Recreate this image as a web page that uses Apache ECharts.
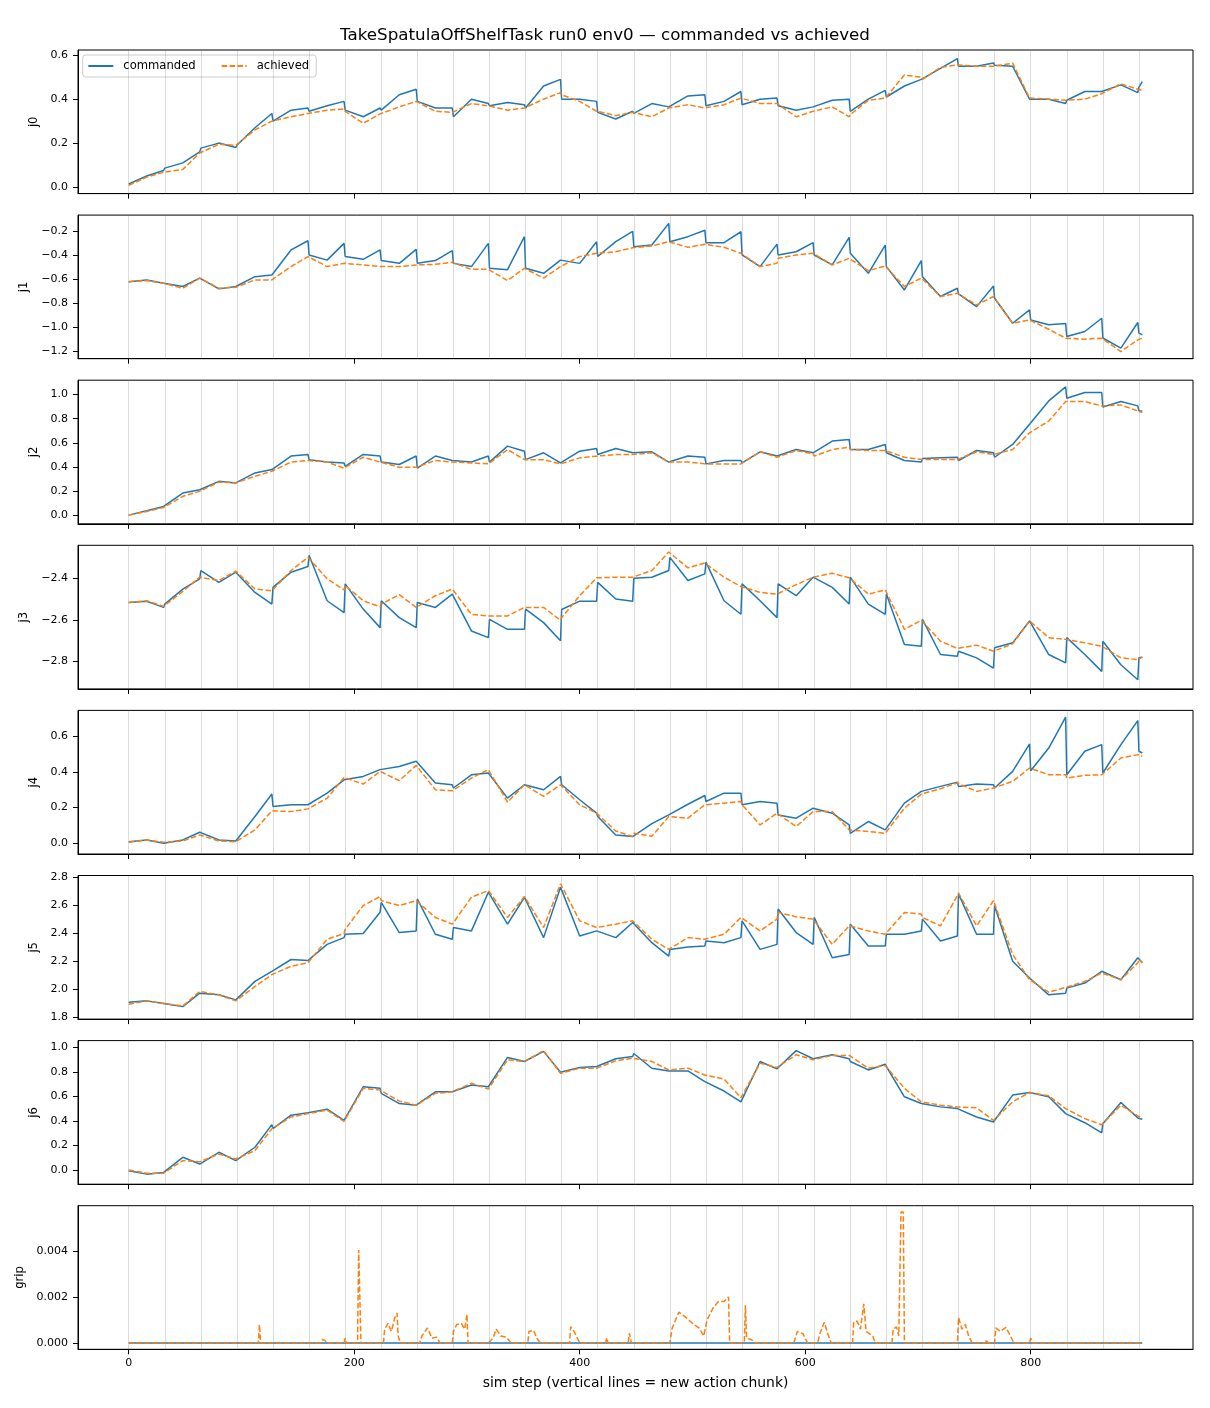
<!DOCTYPE html>
<html>
<head>
<meta charset="utf-8">
<title>TakeSpatulaOffShelfTask run0 env0 — commanded vs achieved</title>
<script src="https://cdn.jsdelivr.net/npm/echarts@6.0.0/dist/echarts.min.js"></script>
<style>
  html, body { margin: 0; padding: 0; background: #fff; }
  #chart { width: 1210px; height: 1408px; }
</style>
</head>
<body>
<div id="chart"></div>
<script>
// sampled sim steps: start, middle and end of every 32-step action chunk
const steps = [0,16,31, 32,48,63, 64,80,95, 96,112,127, 128,144,159, 160,176,191, 192,208,223,
  224,240,255, 256,272,287, 288,304,319, 320,336,351, 352,368,383, 384,400,415, 416,432,447,
  448,464,479, 480,496,511, 512,528,543, 544,560,575, 576,592,607, 608,624,639, 640,656,671,
  672,688,703, 704,720,735, 736,752,767, 768,784,799, 800,816,831, 832,848,863, 864,880,895, 896,899];

const chunkStarts = [0,32,64,96,128,160,192,224,256,288,320,352,384,416,448,480,512,544,576,608,640,672,704,736,768,800,832,864,896];
const xTicks = [0, 200, 400, 600, 800];

const j0Cmd = [0.014,0.050,0.075, 0.086,0.110,0.160, 0.177,0.200,0.180, 0.190,0.270,0.335,
  0.300,0.350,0.360, 0.345,0.370,0.390, 0.350,0.320,0.360, 0.350,0.420,0.445,
  0.390,0.360,0.360, 0.320,0.400,0.380, 0.370,0.385,0.375, 0.360,0.460,0.490,
  0.400,0.400,0.390, 0.340,0.310,0.345, 0.335,0.380,0.365, 0.365,0.415,0.420,
  0.370,0.390,0.435, 0.375,0.400,0.405, 0.370,0.350,0.365, 0.365,0.395,0.400,
  0.345,0.400,0.440, 0.410,0.460,0.490, 0.490,0.540,0.585, 0.550,0.550,0.565,
  0.555,0.550,0.400, 0.405,0.400,0.380, 0.395,0.435,0.435, 0.435,0.465,0.430, 0.455,0.480];
const j0Ach = [0.008,0.045,0.067, 0.070,0.080,0.155, 0.160,0.195,0.190, 0.190,0.260,0.300,
  0.300,0.320,0.335, 0.335,0.350,0.355, 0.345,0.290,0.333, 0.336,0.365,0.390,
  0.386,0.345,0.340, 0.336,0.380,0.370, 0.367,0.350,0.360, 0.360,0.400,0.430,
  0.420,0.390,0.345, 0.340,0.325,0.340, 0.333,0.320,0.360, 0.360,0.375,0.360,
  0.360,0.375,0.405, 0.400,0.380,0.380, 0.375,0.320,0.345, 0.345,0.365,0.320,
  0.330,0.395,0.405, 0.410,0.510,0.500, 0.490,0.545,0.556, 0.556,0.550,0.550,
  0.556,0.564,0.405, 0.400,0.400,0.395, 0.395,0.400,0.425, 0.427,0.470,0.445, 0.440,0.440];

const j1Cmd = [-0.620,-0.605,-0.633, -0.633,-0.660,-0.590, -0.585,-0.680,-0.660, -0.655,-0.578,-0.564,
  -0.560,-0.355,-0.278, -0.397,-0.440,-0.300, -0.410,-0.433,-0.355, -0.444,-0.467,-0.350,
  -0.467,-0.444,-0.360, -0.467,-0.494,-0.300, -0.508,-0.520,-0.244, -0.508,-0.550,-0.440,
  -0.433,-0.467,-0.286, -0.410,-0.286,-0.200, -0.328,-0.314,-0.133, -0.286,-0.244,-0.190,
  -0.294,-0.294,-0.203, -0.397,-0.494,-0.306, -0.397,-0.370,-0.294, -0.397,-0.480,-0.250,
  -0.383,-0.550,-0.314, -0.494,-0.689,-0.444, -0.578,-0.744,-0.675, -0.722,-0.828,-0.656,
  -0.758,-0.967,-0.855, -0.940,-0.980,-0.970, -1.078,-1.036,-0.925, -1.090,-1.175,-0.961, -1.050,-1.064];
const j1Ach = [-0.620,-0.610,-0.633, -0.633,-0.675,-0.590, -0.585,-0.675,-0.667, -0.660,-0.605,-0.605,
  -0.590,-0.494,-0.410, -0.410,-0.494,-0.467, -0.467,-0.480,-0.494, -0.494,-0.494,-0.480,
  -0.480,-0.475,-0.458, -0.467,-0.517,-0.517, -0.520,-0.610,-0.508, -0.517,-0.590,-0.494,
  -0.480,-0.410,-0.383, -0.397,-0.370,-0.336, -0.342,-0.322,-0.286, -0.286,-0.333,-0.308,
  -0.306,-0.333,-0.383, -0.397,-0.494,-0.467, -0.425,-0.397,-0.383, -0.378,-0.480,-0.425,
  -0.410,-0.528,-0.489, -0.494,-0.661,-0.590, -0.590,-0.744,-0.717, -0.731,-0.814,-0.744,
  -0.750,-0.967,-0.940, -0.940,-1.017,-1.092, -1.100,-1.100,-1.092, -1.100,-1.203,-1.106, -1.100,-1.092];

const j2Cmd = [0.000,0.036,0.072, 0.058,0.183,0.210, 0.197,0.280,0.267, 0.267,0.350,0.378,
  0.364,0.490,0.503, 0.460,0.440,0.433, 0.405,0.503,0.490, 0.440,0.420,0.490,
  0.390,0.490,0.453, 0.440,0.440,0.490, 0.440,0.572,0.530, 0.460,0.517,0.433,
  0.425,0.530,0.553, 0.503,0.553,0.517, 0.503,0.525,0.440, 0.433,0.490,0.480,
  0.425,0.453,0.453, 0.433,0.525,0.490, 0.480,0.544,0.517, 0.503,0.614,0.628,
  0.544,0.544,0.586, 0.517,0.453,0.440, 0.470,0.475,0.480, 0.453,0.536,0.517,
  0.480,0.586,0.753, 0.753,0.947,1.064, 0.970,1.017,1.017, 0.897,0.942,0.906, 0.864,0.864];
const j2Ach = [0.000,0.030,0.064, 0.064,0.156,0.197, 0.203,0.275,0.267, 0.267,0.322,0.364,
  0.370,0.440,0.453, 0.453,0.440,0.390, 0.397,0.480,0.440, 0.440,0.397,0.397,
  0.390,0.453,0.440, 0.440,0.433,0.425, 0.440,0.544,0.460, 0.453,0.460,0.425,
  0.425,0.475,0.489, 0.489,0.503,0.503, 0.503,0.517,0.440, 0.433,0.440,0.425,
  0.425,0.425,0.425, 0.433,0.525,0.480, 0.489,0.536,0.508, 0.489,0.544,0.564,
  0.544,0.536,0.536, 0.525,0.480,0.461, 0.461,0.461,0.461, 0.461,0.525,0.503,
  0.489,0.544,0.683, 0.692,0.780,0.942, 0.947,0.942,0.906, 0.906,0.914,0.864, 0.850,0.850];

const j3Cmd = [-2.516,-2.511,-2.540, -2.524,-2.452,-2.403, -2.363,-2.420,-2.371, -2.371,-2.468,-2.524,
  -2.444,-2.371,-2.344, -2.290,-2.508,-2.565, -2.427,-2.548,-2.637, -2.508,-2.589,-2.637,
  -2.516,-2.540,-2.476, -2.476,-2.653,-2.685, -2.597,-2.645,-2.645, -2.548,-2.613,-2.700,
  -2.550,-2.510,-2.510, -2.420,-2.500,-2.510, -2.400,-2.395,-2.363, -2.300,-2.411,-2.379,
  -2.323,-2.508,-2.573, -2.427,-2.508,-2.589, -2.427,-2.484,-2.395, -2.387,-2.444,-2.524,
  -2.395,-2.524,-2.573, -2.476,-2.718,-2.726, -2.597,-2.766,-2.774, -2.750,-2.782,-2.831,
  -2.734,-2.710,-2.605, -2.597,-2.766,-2.806, -2.685,-2.766,-2.847, -2.702,-2.815,-2.887, -2.782,-2.779];
const j3Ach = [-2.516,-2.508,-2.535, -2.532,-2.463,-2.395, -2.387,-2.411,-2.366, -2.366,-2.452,-2.460,
  -2.452,-2.363,-2.300, -2.298,-2.403,-2.456, -2.435,-2.508,-2.537, -2.524,-2.479,-2.540,
  -2.532,-2.484,-2.452, -2.460,-2.573,-2.581, -2.581,-2.581,-2.540, -2.537,-2.540,-2.602,
  -2.589,-2.484,-2.398, -2.395,-2.395,-2.395, -2.403,-2.363,-2.274, -2.274,-2.350,-2.327,
  -2.327,-2.395,-2.440, -2.431,-2.468,-2.476, -2.468,-2.431,-2.395, -2.392,-2.376,-2.398,
  -2.403,-2.476,-2.456, -2.460,-2.645,-2.602, -2.597,-2.702,-2.737, -2.734,-2.721,-2.750,
  -2.747,-2.715,-2.605, -2.602,-2.685,-2.693, -2.698,-2.710,-2.726, -2.726,-2.782,-2.790, -2.782,-2.779];

const j4Cmd = [0.009,0.019,0.000, 0.004,0.019,0.062, 0.060,0.019,0.013, 0.009,0.150,0.276,
  0.206,0.216,0.216, 0.206,0.281,0.356, 0.347,0.375,0.413, 0.422,0.431,0.460,
  0.450,0.338,0.328, 0.310,0.384,0.394, 0.394,0.253,0.328, 0.328,0.300,0.375,
  0.328,0.244,0.169, 0.150,0.047,0.038, 0.043,0.110,0.159, 0.159,0.219,0.268,
  0.234,0.281,0.281, 0.216,0.234,0.225, 0.159,0.141,0.197, 0.197,0.169,0.103,
  0.056,0.122,0.075, 0.075,0.225,0.291, 0.291,0.319,0.343, 0.319,0.332,0.328,
  0.310,0.403,0.557, 0.407,0.534,0.707, 0.384,0.516,0.553, 0.394,0.553,0.688, 0.516,0.506];
const j4Ach = [0.006,0.019,0.006, 0.006,0.013,0.047, 0.056,0.013,0.009, 0.009,0.075,0.182,
  0.188,0.178,0.193, 0.197,0.253,0.369, 0.369,0.332,0.403, 0.403,0.351,0.437,
  0.437,0.300,0.294, 0.287,0.366,0.413, 0.413,0.231,0.328, 0.319,0.263,0.328,
  0.328,0.216,0.169, 0.169,0.069,0.038, 0.056,0.040,0.150, 0.150,0.141,0.216,
  0.225,0.225,0.234, 0.216,0.103,0.169, 0.174,0.094,0.178, 0.178,0.178,0.075,
  0.066,0.066,0.056, 0.056,0.197,0.276, 0.276,0.306,0.338, 0.328,0.291,0.310,
  0.306,0.347,0.422, 0.418,0.384,0.384, 0.366,0.381,0.384, 0.384,0.478,0.497, 0.488,0.488];

const j5Cmd = [1.908,1.918,1.900, 1.913,1.877,1.973, 1.985,1.961,1.925, 1.925,2.057,2.129,
  2.129,2.213,2.206, 2.200,2.321,2.369, 2.393,2.398,2.550, 2.620,2.405,2.417,
  2.645,2.393,2.357, 2.441,2.417,2.693, 2.693,2.465,2.657, 2.645,2.369,2.729,
  2.729,2.381,2.417, 2.405,2.369,2.477, 2.489,2.333,2.237, 2.285,2.302,2.309,
  2.345,2.333,2.369, 2.489,2.285,2.321, 2.573,2.405,2.321, 2.513,2.225,2.249,
  2.465,2.309,2.309, 2.393,2.393,2.417, 2.501,2.345,2.381, 2.681,2.393,2.393,
  2.597,2.201,2.081, 2.069,1.961,1.973, 2.009,2.045,2.129, 2.141,2.069,2.225, 2.213,2.189];
const j5Ach = [1.894,1.918,1.900, 1.906,1.882,1.985, 1.990,1.961,1.918, 1.925,2.021,2.105,
  2.110,2.165,2.189, 2.200,2.357,2.398, 2.429,2.597,2.662, 2.633,2.597,2.633,
  2.621,2.513,2.465, 2.465,2.657,2.705, 2.700,2.513,2.662, 2.652,2.441,2.753,
  2.741,2.489,2.441, 2.436,2.465,2.489, 2.501,2.357,2.285, 2.285,2.369,2.357,
  2.369,2.393,2.513, 2.501,2.417,2.501, 2.549,2.517,2.501, 2.489,2.321,2.453,
  2.453,2.417,2.393, 2.393,2.549,2.537, 2.513,2.453,2.669, 2.686,2.453,2.633,
  2.633,2.249,2.069, 2.057,1.980,2.014, 2.009,2.057,2.117, 2.117,2.069,2.189, 2.213,2.189];

const j6Cmd = [-0.005,-0.033,-0.019, -0.019,0.104,0.049, 0.063,0.145,0.077, 0.090,0.186,0.370,
  0.337,0.447,0.468, 0.474,0.496,0.405, 0.419,0.679,0.666, 0.625,0.542,0.529,
  0.523,0.638,0.638, 0.633,0.693,0.679, 0.671,0.918,0.885, 0.885,0.967,0.797,
  0.789,0.836,0.844, 0.852,0.907,0.926, 0.950,0.830,0.808, 0.803,0.808,0.721,
  0.707,0.644,0.556, 0.570,0.885,0.825, 0.830,0.973,0.907, 0.899,0.940,0.907,
  0.885,0.816,0.863, 0.844,0.597,0.542, 0.542,0.515,0.501, 0.501,0.433,0.392,
  0.397,0.611,0.633, 0.633,0.597,0.460, 0.474,0.386,0.304, 0.378,0.551,0.425, 0.419,0.414];
const j6Ach = [0.000,-0.025,-0.025, -0.025,0.077,0.068, 0.068,0.131,0.090, 0.085,0.159,0.337,
  0.342,0.433,0.460, 0.460,0.488,0.397, 0.397,0.666,0.652, 0.638,0.562,0.529,
  0.529,0.625,0.638, 0.638,0.707,0.660, 0.660,0.899,0.885, 0.885,0.973,0.789,
  0.781,0.830,0.830, 0.836,0.890,0.912, 0.912,0.885,0.816, 0.816,0.830,0.775,
  0.770,0.742,0.589, 0.597,0.871,0.836, 0.844,0.940,0.899, 0.899,0.934,0.934,
  0.918,0.830,0.852, 0.844,0.666,0.556, 0.551,0.529,0.515, 0.523,0.507,0.405,
  0.405,0.556,0.633, 0.633,0.605,0.501, 0.496,0.419,0.370, 0.370,0.529,0.441, 0.433,0.425];

// gripper: commanded stays at 0, achieved has small blips
const gripCmdSteps = [0, 899];
const gripCmd = [0, 0];
const gripAchSteps = [0,115,116,117, 170,172,174,176, 191,192,193, 203,204,206,
  226,227,230,233,236,238,239,241, 258,260,265,269,273,276, 287,288,291,295,298,300,301,
  319,323,326,330,335,339, 354,355,359,362,365, 391,392,395,398,400, 423,424,425, 443,444,446,
  480,482,488,495,501,506,510,513,518,523,528,532,533, 546,547,548,552,556,
  590,593,598,602, 611,613,617,620,623, 642,643,646,649,652,654,660,662,
  677,678,681,683,685,687,688, 735,736,739,742,745,748, 760,761,762,
  768,769,773,778,782,785, 799,800,802, 899];
const gripAch = [0,0,0.0008,0, 0,0.00015,0.0001,0, 0,0.0002,0, 0,0.00405,0,
  0,0.0006,0.00085,0.0005,0.0011,0.0013,0.0003,0, 0,0.0003,0.00065,0.0002,0.00025,0, 0,0.0005,0.0008,0.00085,0.0006,0.00125,0,
  0,0.0002,0.0006,0.0003,0.00025,0, 0,0.0005,0.00055,0.0002,0, 0,0.0007,0.0005,0.0002,0, 0,0.00022,0, 0,0.00042,0,
  0,0.00064,0.00134,0.00108,0.00081,0.00064,0.0003,0.001,0.0015,0.0018,0.0018,0.002,0, 0,0.00165,0.0002,0.00015,0,
  0,0.0005,0.0004,0, 0,0.0004,0.0009,0.0004,0, 0,0.0009,0.00095,0.0006,0.0017,0.0005,0.0003,0,
  0,0.0006,0.0007,0.0003,0.0057,0.0057,0, 0,0.0011,0.0006,0.0008,0.0003,0, 0,0.00015,0,
  0,0.00065,0.0005,0.00068,0.0003,0, 0,0.0002,0, 0];

const j0Ticks = [0, 0.2, 0.4, 0.6];
const j1Ticks = [-1.2, -1.0, -0.8, -0.6, -0.4, -0.2];
const j2Ticks = [0, 0.2, 0.4, 0.6, 0.8, 1.0];
const j3Ticks = [-2.8, -2.6, -2.4];
const j4Ticks = [0, 0.2, 0.4, 0.6];
const j5Ticks = [1.8, 2.0, 2.2, 2.4, 2.6, 2.8];
const j6Ticks = [0, 0.2, 0.4, 0.6, 0.8, 1.0];
const gripTicks = [0, 0.002, 0.004];

const BLUE = '#1f77b4', ORANGE = '#ff7f0e';
const FONT = 'DejaVu Sans';

const pair = (xs, ys) => xs.map((x, i) => [x, ys[i]]);

const panels = [
  { name: 'j0', cmd: pair(steps, j0Cmd), ach: pair(steps, j0Ach), ticks: j0Ticks, min: -0.030, max: 0.624, dec: 1, gap: 37 },
  { name: 'j1', cmd: pair(steps, j1Cmd), ach: pair(steps, j1Ach), ticks: j1Ticks, min: -1.263, max: -0.064, dec: 1, gap: 42 },
  { name: 'j2', cmd: pair(steps, j2Cmd), ach: pair(steps, j2Ach), ticks: j2Ticks, min: -0.072, max: 1.119, dec: 1, gap: 37 },
  { name: 'j3', cmd: pair(steps, j3Cmd), ach: pair(steps, j3Ach), ticks: j3Ticks, min: -2.931, max: -2.242, dec: 1, gap: 42 },
  { name: 'j4', cmd: pair(steps, j4Cmd), ach: pair(steps, j4Ach), ticks: j4Ticks, min: -0.060, max: 0.745, dec: 1, gap: 37 },
  { name: 'j5', cmd: pair(steps, j5Cmd), ach: pair(steps, j5Ach), ticks: j5Ticks, min: 1.788, max: 2.812, dec: 1, gap: 37 },
  { name: 'j6', cmd: pair(steps, j6Cmd), ach: pair(steps, j6Ach), ticks: j6Ticks, min: -0.115, max: 1.055, dec: 1, gap: 37 },
  { name: 'grip', cmd: pair(gripCmdSteps, gripCmd), ach: pair(gripAchSteps, gripAch), ticks: gripTicks, min: -0.00028, max: 0.00598, dec: 3, gap: 44 }
];

const fmt = dec => v => (v < -1e-12 ? '\u2212' : '') + Math.abs(v).toFixed(dec);

const grids = [], xAxes = [], yAxes = [], series = [];
panels.forEach((p, i) => {
  const last = i === panels.length - 1;
  grids.push({
    left: 78, right: 17, top: 50 + i * 165.1, height: 143.6,
    show: true, borderColor: '#000', borderWidth: 1, backgroundColor: 'transparent'
  });
  xAxes.push({
    type: 'value', gridIndex: i, min: -44.95, max: 943.95,
    axisLine: { show: true, onZero: false, lineStyle: { color: '#000', width: 1 } },
    axisTick: { show: true, customValues: xTicks, length: 5, lineStyle: { color: '#000', width: 1 } },
    axisLabel: { show: last, customValues: xTicks, fontSize: 11, fontFamily: FONT, color: '#000', margin: 8 },
    splitLine: { show: false },
    name: last ? 'sim step (vertical lines = new action chunk)' : '',
    nameLocation: 'middle', nameGap: 27,
    nameTextStyle: { fontSize: 13.9, fontFamily: FONT, color: '#000' }
  });
  yAxes.push({
    type: 'value', gridIndex: i, min: p.min, max: p.max,
    axisLine: { show: true, onZero: false, lineStyle: { color: '#000', width: 1 } },
    axisTick: { show: true, customValues: p.ticks, length: 5, lineStyle: { color: '#000', width: 1 } },
    axisLabel: { customValues: p.ticks, formatter: fmt(p.dec), fontSize: 11, fontFamily: FONT, color: '#000', margin: 10 },
    splitLine: { show: false },
    name: p.name, nameLocation: 'middle', nameGap: p.gap,
    nameTextStyle: { fontSize: 11.6, fontFamily: FONT, color: '#000' }
  });
  // chunk boundary lines drawn behind the data
  series.push({
    type: 'line', name: 'chunks', xAxisIndex: i, yAxisIndex: i, data: [], z: 1, silent: true,
    markLine: {
      silent: true, symbol: 'none', label: { show: false }, animation: false,
      lineStyle: { color: 'rgba(128,128,128,0.28)', type: 'solid', width: 1 },
      data: chunkStarts.map(s => ({ xAxis: s }))
    }
  });
  series.push({
    type: 'line', name: 'commanded', xAxisIndex: i, yAxisIndex: i, data: p.cmd, z: 3,
    symbol: 'none', showSymbol: false, lineStyle: { color: BLUE, width: 1.5 }, itemStyle: { color: BLUE }
  });
  series.push({
    type: 'line', name: 'achieved', xAxisIndex: i, yAxisIndex: i, data: p.ach, z: 4,
    symbol: 'none', showSymbol: false, lineStyle: { color: ORANGE, width: 1.5, type: [5.5, 2.4] }, itemStyle: { color: ORANGE }
  });
});

const chart = echarts.init(document.getElementById('chart'));
chart.setOption({
  animation: false,
  backgroundColor: '#fff',
  textStyle: { fontFamily: FONT },
  title: {
    text: 'TakeSpatulaOffShelfTask run0 env0 — commanded vs achieved',
    left: 'center', top: 27, padding: 0,
    textStyle: { fontSize: 16.7, fontWeight: 'normal', fontFamily: FONT, color: '#000' }
  },
  legend: {
    data: ['commanded', 'achieved'],
    left: 82.7, top: 55, orient: 'horizontal',
    itemWidth: 25, itemHeight: 12, itemGap: 25,
    padding: [5, 7, 5, 4.6],
    itemStyle: { opacity: 0 },
    backgroundColor: 'rgba(255,255,255,0.8)', borderColor: '#cccccc', borderWidth: 1, borderRadius: 3,
    textStyle: { fontSize: 11.6, fontFamily: FONT, color: '#000', padding: [0, 0, 0, 5] }
  },
  grid: grids,
  xAxis: xAxes,
  yAxis: yAxes,
  series: series
});
</script>
</body>
</html>
